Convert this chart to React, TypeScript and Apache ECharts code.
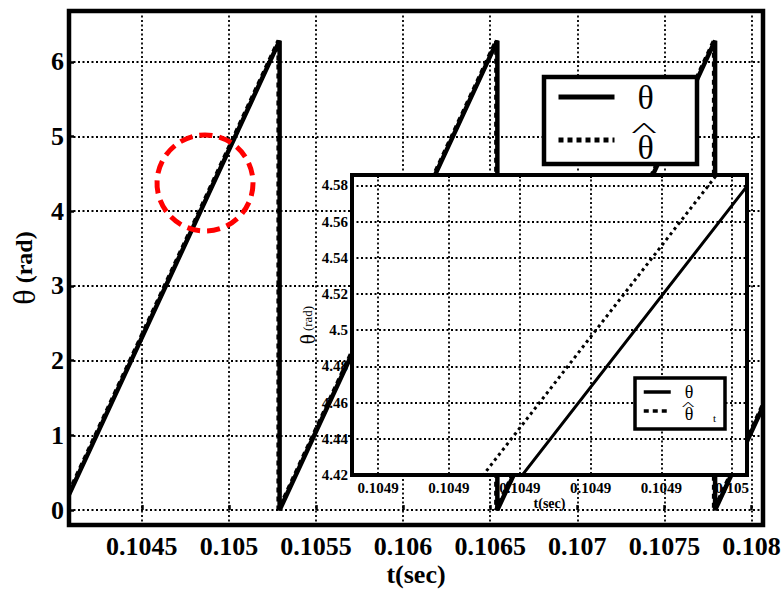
import React, { useEffect, useRef } from 'react';
import * as echarts from 'echarts';

// Sawtooth rotor angle: vertices of each ramp (time in s, angle in rad)
const thetaTime = [0.104082, 0.105291, 0.105291, 0.106541, 0.106541, 0.107791, 0.107791, 0.108066];
const thetaValue = [0.206, 6.283, 0, 6.283, 0, 6.283, 0, 1.382];
const thetaHatTime = [0.104082, 0.1052855, 0.1052855, 0.1065355, 0.1065355, 0.1077855, 0.1077855, 0.108066];
const thetaHatValue = [0.234, 6.283, 0, 6.283, 0, 6.283, 0, 1.409];

const seriesNames = ['θ', 'θ\u0302'];

// Main axes
const mainTimeTicks = [0.1045, 0.105, 0.1055, 0.106, 0.1065, 0.107, 0.1075, 0.108];
const mainTimeLabels = ['0.1045', '0.105', '0.1055', '0.106', '0.1065', '0.107', '0.1075', '0.108'];
const mainAngleTicks = [0, 1, 2, 3, 4, 5, 6];
const mainAngleLabels = ['0', '1', '2', '3', '4', '5', '6'];

// Zoomed inset axes
const zoomTimeTicks = [0.1049, 0.10491, 0.10492, 0.10493, 0.10494, 0.10495];
const zoomTimeLabels = ['0.1049', '0.1049', '0.1049', '0.1049', '0.1049', '0.105'];
const zoomAngleTicks = [4.42, 4.44, 4.46, 4.48, 4.5, 4.52, 4.54, 4.56, 4.58];
const zoomAngleLabels = ['4.42', '4.44', '4.46', '4.48', '4.5', '4.52', '4.54', '4.56', '4.58'];

const SERIF = 'Liberation Serif';

function pairs(t: number[], v: number[]) {
  return t.map((x, i) => [x, v[i]]);
}

function labelFor(ticks: number[], labels: string[]) {
  return (v: number) => {
    let best = 0;
    for (let i = 1; i < ticks.length; i++) {
      if (Math.abs(ticks[i] - v) < Math.abs(ticks[best] - v)) best = i;
    }
    return labels[best];
  };
}

// Legend text: the estimate's theta sits a little lower to leave room for its hat
function legendText(name: string) {
  return name === seriesNames[1] ? '{e|θ}' : '{g|θ}';
}

function legendRich(size: number, drop: number) {
  return {
    g: { fontSize: size, fontFamily: SERIF, color: '#000' },
    e: { fontSize: size, fontFamily: SERIF, color: '#000', padding: [drop, 0, 0, 0] },
  };
}

const gridDots = { color: '#000', type: [2, 2.5] as number[], width: 1.8 };

export default function App() {
  const ref = useRef<HTMLDivElement>(null);

  useEffect(() => {
    if (!ref.current) return;
    const chart = echarts.init(ref.current, undefined, { renderer: 'svg' });

    const option: any = {
      animation: false,
      backgroundColor: '#fff',
      grid: [
        { left: 67, top: 11, right: 21, bottom: 65, show: true, borderColor: '#000', borderWidth: 4.5, z: 0 },
        { left: 352, top: 175, right: 37, bottom: 117, show: true, backgroundColor: '#fff', borderColor: '#000', borderWidth: 4, z: 4 },
      ],
      xAxis: [
        {
          gridIndex: 0, type: 'value', min: 0.104082, max: 0.108066, z: 1,
          axisLine: { show: false },
          axisTick: { show: true, inside: true, length: 5, customValues: mainTimeTicks, lineStyle: { color: '#000', width: 2.5 } },
          axisLabel: { customValues: mainTimeTicks, formatter: labelFor(mainTimeTicks, mainTimeLabels), fontSize: 26, fontWeight: 'bold', fontFamily: SERIF, color: '#000', margin: 8 },
          splitLine: { show: true, lineStyle: gridDots },
          name: 't(sec)', nameLocation: 'middle', nameGap: 36, nameMoveOverlap: false,
          nameTextStyle: { fontSize: 26, fontWeight: 'bold', fontFamily: SERIF, color: '#000' },
        },
        {
          gridIndex: 1, type: 'value', min: 0.1048963, max: 0.1049521, z: 0,
          axisLine: { show: false }, axisTick: { show: false, customValues: zoomTimeTicks }, splitLine: { show: false },
          axisLabel: { customValues: zoomTimeTicks, formatter: labelFor(zoomTimeTicks, zoomTimeLabels), fontSize: 15, fontWeight: 'bold', fontFamily: SERIF, color: '#000', margin: 5 },
          name: 't(sec)', nameLocation: 'middle', nameGap: 21, nameMoveOverlap: false,
          nameTextStyle: { fontSize: 14, fontWeight: 'bold', fontFamily: SERIF, color: '#000' },
        },
        {
          gridIndex: 1, type: 'value', min: 0.1048963, max: 0.1049521, z: 5,
          axisLine: { show: false }, axisLabel: { show: false },
          axisTick: { show: true, inside: true, length: 3, customValues: zoomTimeTicks, lineStyle: { color: '#000', width: 2 } },
          splitLine: { show: true, lineStyle: gridDots },
        },
      ],
      yAxis: [
        {
          gridIndex: 0, type: 'value', min: -0.2, max: 6.68, z: 1,
          axisLine: { show: false },
          axisTick: { show: true, inside: true, length: 5, customValues: mainAngleTicks, lineStyle: { color: '#000', width: 2.5 } },
          axisLabel: { customValues: mainAngleTicks, formatter: labelFor(mainAngleTicks, mainAngleLabels), fontSize: 26, fontWeight: 'bold', fontFamily: SERIF, color: '#000', margin: 5 },
          splitLine: { show: true, lineStyle: gridDots },
          name: '{g|θ}  {r|(rad)}', nameLocation: 'middle', nameGap: 29, nameMoveOverlap: false,
          nameTextStyle: {
            color: '#000', fontFamily: SERIF,
            rich: {
              g: { fontSize: 32, fontFamily: SERIF, color: '#000' },
              r: { fontSize: 24, fontWeight: 'bold', fontFamily: SERIF, color: '#000' },
            },
          },
        },
        {
          gridIndex: 1, type: 'value', min: 4.42, max: 4.5857, z: 0,
          axisLine: { show: false }, axisTick: { show: false, customValues: zoomAngleTicks }, splitLine: { show: false },
          axisLabel: { customValues: zoomAngleTicks, formatter: labelFor(zoomAngleTicks, zoomAngleLabels), fontSize: 15, fontWeight: 'bold', fontFamily: SERIF, color: '#000', margin: 4 },
          name: '{g|θ} {r|(rad)}', nameLocation: 'middle', nameGap: 34, nameMoveOverlap: false,
          nameTextStyle: {
            color: '#000', fontFamily: SERIF,
            rich: {
              g: { fontSize: 21, fontFamily: SERIF, color: '#000' },
              r: { fontSize: 13, fontFamily: SERIF, color: '#000' },
            },
          },
        },
        {
          gridIndex: 1, type: 'value', min: 4.42, max: 4.5857, z: 5,
          axisLine: { show: false }, axisLabel: { show: false },
          axisTick: { show: true, inside: true, length: 3, customValues: zoomAngleTicks, lineStyle: { color: '#000', width: 2 } },
          splitLine: { show: true, lineStyle: gridDots },
        },
      ],
      legend: [
        {
          data: seriesNames, orient: 'vertical', left: 556, top: 80, padding: 0,
          itemWidth: 56, itemHeight: 14, itemGap: 16, selectedMode: false, z: 4,
          itemStyle: { opacity: 0 },
          lineStyle: { width: 5 },
          formatter: legendText,
          textStyle: { fontSize: 34, fontFamily: SERIF, color: '#000', padding: [0, 0, 0, 18], rich: legendRich(34, 14) },
        },
        {
          data: seriesNames, orient: 'vertical', left: 642, top: 383, padding: 0,
          itemWidth: 27, itemHeight: 8, itemGap: 4, selectedMode: false, z: 8,
          itemStyle: { opacity: 0 },
          lineStyle: { width: 3.5 },
          formatter: legendText,
          textStyle: { fontSize: 18, fontFamily: SERIF, color: '#000', padding: [0, 0, 0, 9], rich: legendRich(18, 6) },
        },
      ],
      series: [
        {
          name: seriesNames[0], type: 'line', xAxisIndex: 0, yAxisIndex: 0, z: 2,
          data: pairs(thetaTime, thetaValue), symbol: 'none', showSymbol: false,
          itemStyle: { color: '#000' },
          lineStyle: { color: '#000', width: 4.5, type: 'solid' },
        },
        {
          name: seriesNames[1], type: 'line', xAxisIndex: 0, yAxisIndex: 0, z: 2,
          data: pairs(thetaHatTime, thetaHatValue), symbol: 'none', showSymbol: false,
          itemStyle: { color: '#000' },
          lineStyle: { color: '#000', width: 4.5, type: [5, 4] },
        },
        {
          name: seriesNames[0], type: 'line', xAxisIndex: 2, yAxisIndex: 2, z: 6,
          data: pairs(thetaTime, thetaValue), symbol: 'none', showSymbol: false, clip: true,
          itemStyle: { color: '#000' },
          lineStyle: { color: '#000', width: 3, type: 'solid' },
        },
        {
          name: seriesNames[1], type: 'line', xAxisIndex: 2, yAxisIndex: 2, z: 6,
          data: pairs(thetaHatTime, thetaHatValue), symbol: 'none', showSymbol: false, clip: true,
          itemStyle: { color: '#000' },
          lineStyle: { color: '#000', width: 3, type: [3, 3.5] },
        },
      ],
      graphic: [
        {
          type: 'rect', z: 3,
          shape: { x: 544, y: 77, width: 153, height: 87 },
          style: { fill: '#fff', stroke: '#000', lineWidth: 4.5 },
        },
        {
          type: 'text', z: 5, x: 644, y: 130, scaleX: 1.6, scaleY: 0.6,
          style: { text: '^', fontSize: 34, fontFamily: SERIF, fill: '#000', align: 'center', verticalAlign: 'middle' },
        },
        {
          type: 'rect', z: 7,
          shape: { x: 635, y: 378, width: 90, height: 51 },
          style: { fill: '#fff', stroke: '#000', lineWidth: 3.5 },
        },
        {
          type: 'text', z: 9, x: 688, y: 405, scaleX: 1.5, scaleY: 0.6,
          style: { text: '^', fontSize: 18, fontFamily: SERIF, fill: '#000', align: 'center', verticalAlign: 'middle' },
        },
        {
          type: 'text', z: 9, x: 713, y: 412,
          style: { text: 't', fontSize: 11, fontFamily: SERIF, fill: '#000' },
        },
        {
          type: 'circle', z: 3,
          shape: { cx: 205, cy: 183, r: 48 },
          style: { fill: 'none', stroke: '#ff0000', lineWidth: 5, lineDash: [13, 7] },
        },
      ],
    };

    chart.setOption(option);
    return () => chart.dispose();
  }, []);

  return <div ref={ref} style={{ position: 'fixed', left: 0, top: 0, width: 784, height: 592 }} />;
}
